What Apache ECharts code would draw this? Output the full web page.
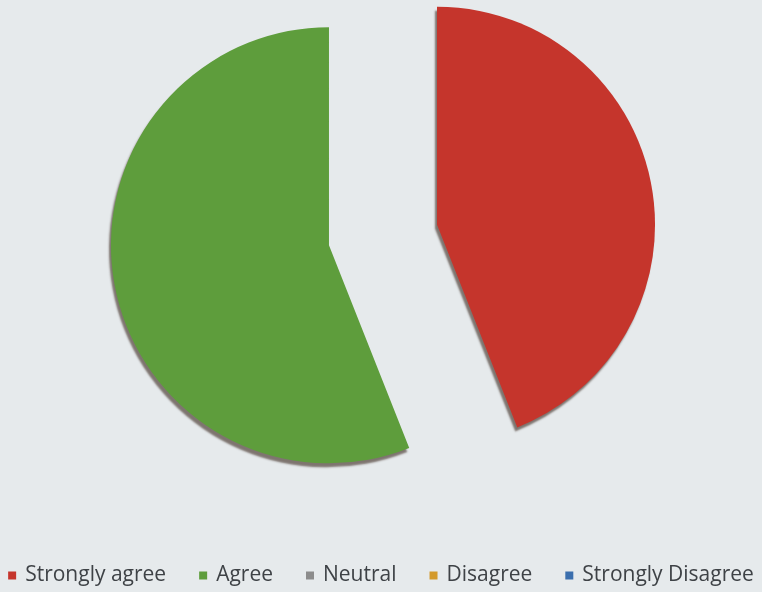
<!DOCTYPE html>
<html>
<head>
<meta charset="utf-8">
<script src="https://cdn.jsdelivr.net/npm/echarts@6/dist/echarts.min.js"></script>
<style>
    html, body { margin: 0; padding: 0; background: #e6eaec; }
    #chart { width: 762px; height: 592px; }
</style>
</head>
<body>
<div id="chart"></div>
<script>
    // 数据
    const categories = ['Strongly agree', 'Agree', 'Neutral', 'Disagree', 'Strongly Disagree'];
    const values = [44, 56, 0, 0, 0];
    const colors = ['#c5352c', '#5e9d3c', '#8c8c8c', '#d39a2c', '#3b6fae'];

    const myChart = echarts.init(document.getElementById('chart'));

    const option = {
        backgroundColor: '#e6eaec',
        animation: false,
        color: colors,
        legend: {
            bottom: 1,
            left: 'center',
            icon: 'rect',
            itemWidth: 8,
            itemHeight: 8,
            itemGap: 33,
            selectedMode: false,
            textStyle: {
                fontFamily: 'Open Sans',
                fontSize: 21,
                color: '#3e4246',
                padding: [0, 0, 0, 4]
            },
            data: categories
        },
        series: [{
            type: 'pie',
            center: [383, 235],
            radius: 218,
            startAngle: 90,
            clockwise: true,
            selectedMode: 'multiple',
            selectedOffset: 55,
            label: { show: false },
            labelLine: { show: false },
            emphasis: { disabled: true },
            itemStyle: {
                borderWidth: 0,
                shadowColor: 'rgba(40,20,10,0.55)',
                shadowBlur: 2,
                shadowOffsetX: -2,
                shadowOffsetY: 4
            },
            data: categories.map((name, i) => ({
                name,
                value: values[i],
                selected: values[i] > 0
            }))
        }]
    };

    myChart.setOption(option);
</script>
</body>
</html>
